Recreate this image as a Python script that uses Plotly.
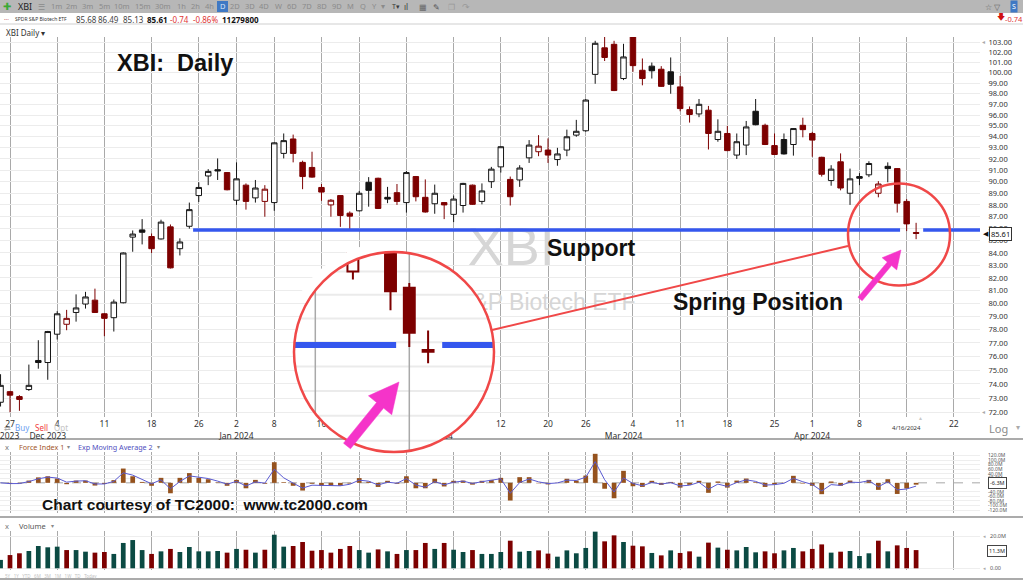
import math
import numpy as np
import pandas as pd
import plotly.graph_objects as go

W, H = 1023, 580

# ---------------------------------------------------------------- data
dates = [
    "2023-11-24", "2023-11-27", "2023-11-28", "2023-11-29", "2023-11-30", "2023-12-01",
    "2023-12-04", "2023-12-05", "2023-12-06", "2023-12-07", "2023-12-08",
    "2023-12-11", "2023-12-12", "2023-12-13", "2023-12-14", "2023-12-15",
    "2023-12-18", "2023-12-19", "2023-12-20", "2023-12-21", "2023-12-22",
    "2023-12-26", "2023-12-27", "2023-12-28", "2023-12-29",
    "2024-01-02", "2024-01-03", "2024-01-04", "2024-01-05",
    "2024-01-08", "2024-01-09", "2024-01-10", "2024-01-11", "2024-01-12",
    "2024-01-16", "2024-01-17", "2024-01-18", "2024-01-19",
    "2024-01-22", "2024-01-23", "2024-01-24", "2024-01-25", "2024-01-26",
    "2024-01-29", "2024-01-30", "2024-01-31", "2024-02-01", "2024-02-02",
    "2024-02-05", "2024-02-06", "2024-02-07", "2024-02-08", "2024-02-09",
    "2024-02-12", "2024-02-13", "2024-02-14", "2024-02-15", "2024-02-16",
    "2024-02-20", "2024-02-21", "2024-02-22", "2024-02-23",
    "2024-02-26", "2024-02-27", "2024-02-28", "2024-02-29", "2024-03-01",
    "2024-03-04", "2024-03-05", "2024-03-06", "2024-03-07", "2024-03-08",
    "2024-03-11", "2024-03-12", "2024-03-13", "2024-03-14", "2024-03-15",
    "2024-03-18", "2024-03-19", "2024-03-20", "2024-03-21", "2024-03-22",
    "2024-03-25", "2024-03-26", "2024-03-27", "2024-03-28",
    "2024-04-01", "2024-04-02", "2024-04-03", "2024-04-04", "2024-04-05",
    "2024-04-08", "2024-04-09", "2024-04-10", "2024-04-11", "2024-04-12",
    "2024-04-15", "2024-04-16",
]
# sessions still to come, shown as empty space on the right of the chart
upcoming = ["2024-04-17", "2024-04-18", "2024-04-19", "2024-04-22",
            "2024-04-23", "2024-04-24", "2024-04-25", "2024-04-26"]

open_ = [72.7, 73.45, 73.1, 73.6, 75.7, 75.55,
         77.65, 78.4, 79.3, 79.95, 80.25,
         79.2, 78.9, 80.05, 85.3, 85.9,
         85.35, 85.15, 86.15, 84.35, 86.2,
         88.8, 90.5, 91.05, 90.8,
         88.4, 89.7, 88.6, 88.3,
         88.2, 92.5, 93.8, 91.7, 91.25,
         89.5, 88.0, 88.8, 87.3,
         87.5, 89.95, 90.3, 88.65, 89.05,
         88.2, 90.45, 88.65, 88.1, 88.2,
         87.2, 87.95, 89.7, 88.3, 90.0,
         91.3, 90.2, 90.15, 92.1, 92.65,
         92.8, 91.95, 92.8, 94.15,
         94.55, 99.85, 102.45, 102.8, 99.45,
         103.6, 100.25, 100.65, 100.35, 100.1,
         98.65, 96.5, 96.1, 96.45, 93.75,
         94.3, 92.35, 93.25, 96.35, 95.05,
         93.2, 93.75, 93.3, 95.05,
         94.3, 92.15, 90.1, 91.75, 89.0,
         90.45, 90.6, 89.0, 91.35, 91.15,
         88.3, 85.68]
high_ = [74.7, 73.5, 73.2, 75.4, 77.2, 77.9,
         79.4, 79.5, 80.7, 80.9, 81.15,
         79.25, 80.3, 84.05, 85.85, 86.8,
         85.6, 86.75, 86.35, 85.2, 88.2,
         89.95, 91.1, 92.05, 90.85,
         91.7, 89.85, 90.15, 89.7,
         93.5, 94.3, 94.2, 91.85, 92.65,
         89.8, 88.5, 88.8, 87.45,
         89.2, 90.4, 90.35, 89.55, 89.8,
         90.95, 90.5, 90.2, 89.75, 88.25,
         88.8, 89.9, 89.75, 89.85, 91.3,
         93.15, 90.45, 91.45, 93.7, 94.15,
         93.85, 93.0, 94.65, 95.55,
         97.5, 103.15, 103.55, 103.15, 102.85,
         103.65, 101.4, 101.0, 100.65, 101.5,
         99.7, 96.8, 97.5, 96.85, 95.6,
         95.0, 94.3, 95.45, 97.5, 95.2,
         94.3, 94.3, 94.8, 95.75,
         94.45, 92.2, 91.45, 92.5, 91.15,
         90.75, 91.8, 90.05, 91.7, 91.2,
         88.5, 86.49]
low_ = [72.4, 72.0, 72.1, 73.5, 75.1, 74.3,
        77.25, 77.95, 78.6, 79.6, 79.3,
        77.5, 77.85, 80.0, 84.1, 84.7,
        84.0, 85.1, 82.75, 83.8, 86.0,
        88.25, 89.7, 90.15, 89.25,
        88.0, 87.6, 88.2, 87.0,
        87.5, 92.05, 91.7, 89.35, 90.35,
        88.35, 87.0, 86.15, 85.9,
        87.45, 87.85, 87.65, 88.15, 88.0,
        87.35, 88.3, 87.35, 87.25, 86.8,
        86.55, 87.35, 88.0, 88.05, 89.45,
        90.8, 87.95, 89.55, 91.65, 92.25,
        91.65, 91.4, 92.25, 94.0,
        94.45, 98.95, 101.15, 98.25, 99.3,
        100.1, 98.8, 99.45, 98.65, 98.0,
        96.35, 95.3, 95.8, 92.85, 93.55,
        92.7, 92.0, 92.35, 95.05, 93.25,
        92.35, 92.4, 92.3, 93.95,
        92.2, 90.45, 89.65, 89.25, 88.0,
        89.7, 90.4, 88.65, 89.95, 87.35,
        85.8, 85.13]
close_ = [73.9, 73.2, 72.9, 73.9, 75.55, 77.85,
          79.2, 78.85, 79.65, 80.5, 79.3,
          78.85, 80.1, 84.0, 85.55, 85.7,
          84.35, 86.55, 82.8, 84.9, 87.6,
          89.5, 90.9, 90.95, 89.3,
          90.25, 88.3, 89.45, 89.35,
          93.45, 93.65, 92.5, 90.45, 90.4,
          89.1, 88.4, 87.1, 87.05,
          89.0, 89.25, 87.7, 88.5, 88.3,
          90.8, 88.7, 87.4, 89.0, 88.0,
          88.5, 89.85, 88.05, 89.2, 91.1,
          93.1, 88.7, 91.2, 93.25, 93.15,
          92.35, 92.45, 94.0, 94.5,
          97.4, 102.9, 101.5, 98.3, 101.55,
          100.7, 99.45, 100.2, 98.7, 98.9,
          96.6, 96.05, 97.0, 94.3, 94.5,
          92.75, 93.55, 94.9, 95.1, 93.3,
          92.4, 92.45, 94.75, 94.65,
          93.7, 90.65, 91.1, 89.45, 90.25,
          90.3, 91.6, 89.8, 91.15, 88.15,
          86.4, 85.61]
volume_m = [5.2, 8.2, 9.3, 10.7, 13.8, 13.0,
            13.4, 11.3, 11.3, 10.3, 9.7,
            10.1, 8.9, 15.7, 17.5, 11.3,
            8.9, 10.5, 12.0, 10.1, 13.2,
            10.5, 10.5, 10.7, 9.7,
            12.0, 11.5, 9.7, 11.5,
            20.8, 13.4, 13.8, 16.3, 10.9,
            11.3, 9.7, 12.0, 13.8,
            11.3, 9.7, 11.7, 10.5, 8.9,
            11.3, 11.3, 15.7, 12.0, 15.7,
            11.5, 10.1, 11.3, 8.9, 8.9,
            10.1, 17.1, 10.3, 10.7, 11.1,
            9.1, 7.2, 11.1, 9.3,
            12.6, 22.7, 16.7, 20.4, 16.3,
            14.0, 13.6, 9.5, 8.0, 11.1,
            9.5, 10.5, 7.2, 15.9, 12.8,
            11.5, 11.1, 13.2, 9.9, 10.5,
            9.3, 11.1, 12.6, 10.5,
            12.0, 14.8, 9.7, 10.3, 10.7,
            7.6, 9.3, 17.1, 10.5, 14.2,
            12.6, 11.28]
force_m = [0, -5, -3, 10, 24, 29,
           19, -6, 10, 10, -12,
           -5, 12, 63, 29, 4,
           -13, 22, -46, 22, 43,
           22, 16, 2, -13,
           13, -24, 13, -4,
           91, 3, -13, -34, -4,
           -13, -13, -13, -3,
           21, 5, -18, 9, -4,
           29, -24, -24, 18, -16,
           9, 10, -8, 9, 13,
           22, -78, 25, 25, -2,
           -7, 1, 18, 10,
           32, 128, -26, -68, 53,
           -15, -18, 9, -9, 4,
           -21, -9, 9, -44, 6,
           -21, 10, 19, 3, -18,
           -7, 1, 31, -3,
           -13, -50, 6, -13, 10,
           1, 13, -31, 16, -49,
           -25, -8]

price_ticks = list(range(72, 104))
force_ticks = [120, 100, 80, 60, 40, 20, -40, -60, -80, -100, -120]
support_level = 85.89
# support line extent, in session units (start, gap around the last bars, end)
support_start, support_gap, support_end = 20.4, (95.3, 97.75), 104.3

# ---------------------------------------------------------------- derived
n = len(dates)
xs = list(range(n))
all_days = pd.to_datetime(dates + upcoming)
week_starts = [i for i in range(1, len(all_days))
               if all_days[i].isocalendar()[1] != all_days[i - 1].isocalendar()[1]]
week_text = [str(all_days[i].day) if i != n - 2 else "" for i in week_starts]
month_starts = [0] + [i for i in range(1, n) if all_days[i].month != all_days[i - 1].month]
month_text = [all_days[i].strftime("%b %Y") for i in month_starts]

up_day = [True] + [close_[i] >= close_[i - 1] for i in range(1, n)]
ema = pd.Series(force_m, dtype=float).ewm(span=2, adjust=False).mean().tolist()

RED = "#7d0000"
BLK = "#151515"
TEAL = "#0b4a43"
BLUE = "#3557ee"
CIRC = "#f04848"
MAG = "#f534c9"
UI = "Noto Sans, Open Sans, sans-serif"
BOLD = "Liberation Sans, Arial, sans-serif"


def px_x(x):
    return x / W


def px_y(y):
    return 1 - y / H


def candles(flag, color, xa, ya, lw, lo=0):
    sel = [i for i in range(lo, n) if up_day[i] == flag]
    return go.Candlestick(
        x=[xs[i] for i in sel], open=[open_[i] for i in sel], high=[high_[i] for i in sel],
        low=[low_[i] for i in sel], close=[close_[i] for i in sel],
        increasing=dict(line=dict(color=color, width=lw), fillcolor="white"),
        decreasing=dict(line=dict(color=color, width=lw), fillcolor=color),
        whiskerwidth=0, xaxis=xa, yaxis=ya, showlegend=False, hoverinfo="skip")


fig = go.Figure()

# main price panel
fig.add_trace(go.Scatter(x=[54.1, 54.1], y=[84.1, 79.9], mode="text",
                         text=["XBI", "SPDR S&P Biotech ETF"],
                         textfont=dict(family="Liberation Sans, Arial", size=[54, 23], color="#d6d6d6"),
                         xaxis="x", yaxis="y", hoverinfo="skip", showlegend=False))
fig.add_trace(candles(True, BLK, "x", "y", 1))
fig.add_trace(candles(False, RED, "x", "y", 1))
fig.add_trace(go.Scatter(x=[support_start, support_gap[0], None, support_gap[1], support_end],
                         y=[support_level, support_level, None, support_level, support_level],
                         mode="lines", line=dict(color=BLUE, width=3.5), xaxis="x", yaxis="y",
                         hoverinfo="skip", showlegend=False))
# carrier for the month captions under the day numbers
fig.add_trace(go.Scatter(x=[None], y=[None], mode="lines", xaxis="x5", yaxis="y",
                         hoverinfo="skip", showlegend=False))

# force index panel
fig.add_trace(go.Bar(x=xs, y=force_m, marker=dict(color="#95521d", line_width=0),
                     xaxis="x2", yaxis="y2", hoverinfo="skip", showlegend=False))
fig.add_trace(go.Scatter(x=xs, y=ema, mode="lines", line=dict(color="#5a5ad2", width=1),
                         xaxis="x2", yaxis="y2", hoverinfo="skip", showlegend=False))

# volume panel
fig.add_trace(go.Bar(x=xs, y=volume_m, marker=dict(color=[TEAL if u else RED for u in up_day], line_width=0),
                     xaxis="x3", yaxis="y3", hoverinfo="skip", showlegend=False))

# magnified view of the last sessions
in_x = (89.867, 100.505)
in_y = (81.553, 89.843)
fig.add_trace(candles(True, BLK, "x4", "y4", 2, lo=n - 5))
fig.add_trace(candles(False, RED, "x4", "y4", 2, lo=n - 5))

lo4, hi4 = math.log10(in_y[0]), math.log10(in_y[1])


def in_xv(f):
    return in_x[0] + f * (in_x[1] - in_x[0])


def in_yv(f):
    return 10 ** (lo4 + f * (hi4 - lo4))


yf_s = (math.log10(support_level) - lo4) / (hi4 - lo4)
hw_s = math.sqrt(0.25 - (yf_s - 0.5) ** 2)
fig.add_trace(go.Scatter(x=[in_xv(0.5 - hw_s), support_gap[0], None, support_gap[1], in_xv(0.5 + hw_s)],
                         y=[support_level] * 2 + [None] + [support_level] * 2,
                         mode="lines", line=dict(color=BLUE, width=6), xaxis="x4", yaxis="y4",
                         hoverinfo="skip", showlegend=False))

# ---------------------------------------------------------------- axes
x_range = [-0.059, 103.77]
dom_x = [0, 980 / W]
grid_v = dict(tickmode="array", tickvals=week_starts, showgrid=True, gridcolor="#a9a9a9",
              gridwidth=1, zeroline=False, showline=False, ticks="")

fig.update_layout(
    xaxis=dict(domain=dom_x, range=x_range, anchor="y", ticktext=week_text,
               tickfont=dict(family=UI, size=8.5, color="#333"), tickangle=0,
               ticklabeloverflow="allow", rangeslider=dict(visible=False), **grid_v),
    xaxis5=dict(overlaying="x", anchor="y", side="bottom", range=x_range, tickmode="array",
                tickvals=month_starts, ticktext=month_text, showgrid=False, zeroline=False,
                ticks="outside", ticklen=11, tickcolor="rgba(0,0,0,0)", tickangle=0,
                ticklabeloverflow="allow", tickfont=dict(family=UI, size=8.5, color="#333")),
    yaxis=dict(domain=[px_y(417), px_y(37)], type="log",
               range=[math.log10(71.67), math.log10(103.53)], side="right",
               tickmode="array", tickvals=price_ticks, ticktext=[f"{v:.2f}" for v in price_ticks],
               tickfont=dict(family=UI, size=7.5, color="#333"), showgrid=True,
               gridcolor="#ececec", zeroline=False, ticks="outside", ticklen=6,
               tickcolor="rgba(0,0,0,0)", anchor="x"),
    xaxis2=dict(domain=dom_x, range=x_range, anchor="y2", showticklabels=False, **grid_v),
    yaxis2=dict(domain=[px_y(513), px_y(452)], range=[-133, 136], side="right", anchor="x2",
                tickmode="array", tickvals=force_ticks, ticktext=[f"{v:.1f}M" for v in force_ticks],
                tickfont=dict(family=UI, size=5, color="#555"), showgrid=True,
                gridcolor="#eeeeee", zeroline=False, ticks="outside", ticklen=6,
                tickcolor="rgba(0,0,0,0)"),
    xaxis3=dict(domain=dom_x, range=x_range, anchor="y3", showticklabels=False, **grid_v),
    yaxis3=dict(domain=[px_y(570), px_y(531)], range=[-1.05, 23.1], side="right", anchor="x3",
                tickmode="array", tickvals=[0, 20], ticktext=["0.00", "20.0M"],
                tickfont=dict(family=UI, size=5.5, color="#555"), showgrid=True,
                gridcolor="#eeeeee", zeroline=False, ticks="outside", ticklen=8,
                tickcolor="rgba(0,0,0,0)"),
    xaxis4=dict(domain=[px_x(294), px_x(494)], range=list(in_x), anchor="y4", visible=False,
                rangeslider=dict(visible=False), showgrid=False, zeroline=False),
    yaxis4=dict(domain=[px_y(452), px_y(252)], type="log", range=[lo4, hi4], anchor="x4",
                visible=False, showgrid=False, zeroline=False),
)

# ---------------------------------------------------------------- shapes
shapes = []


def hline(y, x0=0, x1=W, color="#a0a0a0", width=1, layer="below"):
    shapes.append(dict(type="line", xref="paper", yref="paper", x0=px_x(x0), x1=px_x(x1),
                       y0=px_y(y), y1=px_y(y), line=dict(color=color, width=width), layer=layer))


shapes.append(dict(type="rect", xref="paper", yref="paper", x0=0, x1=1, y0=px_y(13), y1=1,
                   fillcolor="#b7b7b7", line_width=0, layer="below"))
hline(24, color="#cfcfcf")
hline(439, color="#8f8f8f", width=1.5)
hline(517, color="#8f8f8f", width=1.5)
hline(579, color="#8f8f8f", width=1.5)
shapes.append(dict(type="line", xref="x2 domain", yref="y2", x0=0, x1=1, y0=0, y1=0,
                   line=dict(color="#a8a8a8", width=1, dash="dash"), layer="below"))

# white disk behind the magnified view, plus its own grid lines clipped to the circle
shapes.append(dict(type="circle", xref="x4", yref="y4", x0=in_x[0], x1=in_x[1],
                   y0=in_y[0], y1=in_y[1], fillcolor="white", line_width=0, layer="below"))
for p in range(math.ceil(in_y[0]), math.floor(in_y[1]) + 1):
    yf = (math.log10(p) - lo4) / (hi4 - lo4)
    hw = math.sqrt(max(0.25 - (yf - 0.5) ** 2, 0))
    shapes.append(dict(type="line", xref="x4", yref="y4", x0=in_xv(0.5 - hw), x1=in_xv(0.5 + hw),
                       y0=p, y1=p, line=dict(color="#ebebeb", width=2), layer="below"))
for w in week_starts:
    if in_x[0] < w < in_x[1]:
        xf = (w - in_x[0]) / (in_x[1] - in_x[0])
        hh = math.sqrt(max(0.25 - (xf - 0.5) ** 2, 0))
        shapes.append(dict(type="line", xref="x4", yref="y4", x0=w, x1=w,
                           y0=in_yv(0.5 - hh), y1=in_yv(0.5 + hh),
                           line=dict(color="#a9a9a9", width=1.5), layer="below"))

# magnifier circle with a thin white edge so nothing spills past it
cx, cy, cr = 394, 352, 100
arc = [(cx + 105.5 * math.cos(a), cy - 105.5 * math.sin(a))
       for a in np.linspace(math.radians(86), math.radians(150), 30)]
shapes.append(dict(type="path", xref="paper", yref="paper",
                   path="M " + " L ".join(f"{px_x(a):.5f},{px_y(b):.5f}" for a, b in arc),
                   line=dict(color="white", width=10), layer="above"))
shapes.append(dict(type="circle", xref="paper", yref="paper", x0=px_x(cx - cr), x1=px_x(cx + cr),
                   y0=px_y(cy + cr), y1=px_y(cy - cr), line=dict(color=CIRC, width=2.5), layer="above"))
shapes.append(dict(type="line", xref="paper", yref="paper", x0=px_x(492), y0=px_y(330),
                   x1=px_x(848), y1=px_y(246), line=dict(color=CIRC, width=2), layer="above"))
shapes.append(dict(type="circle", xref="paper", yref="paper", x0=px_x(848), x1=px_x(950),
                   y0=px_y(285.5), y1=px_y(183.5), line=dict(color=CIRC, width=2.5), layer="above"))


def arrow(tail, tip, shaft, head_len, head_half):
    (tx, ty), (hx, hy) = tail, tip
    L = math.hypot(hx - tx, hy - ty)
    ux, uy = (hx - tx) / L, (hy - ty) / L
    nx, ny = -uy, ux
    bx, by = hx - ux * head_len, hy - uy * head_len
    pts = [(tx + nx * shaft / 2, ty + ny * shaft / 2), (bx + nx * shaft / 2, by + ny * shaft / 2),
           (bx + nx * head_half, by + ny * head_half), (hx, hy),
           (bx - nx * head_half, by - ny * head_half), (bx - nx * shaft / 2, by - ny * shaft / 2),
           (tx - nx * shaft / 2, ty - ny * shaft / 2)]
    shapes.append(dict(type="path", xref="paper", yref="paper",
                       path="M " + " L ".join(f"{px_x(a):.5f},{px_y(b):.5f}" for a, b in pts) + " Z",
                       fillcolor=MAG, line=dict(color=MAG, width=0.5), layer="above"))


arrow((347, 446), (399, 382), 9, 30, 15)
arrow((860, 299), (901, 250), 5.5, 18, 9.5)

# timeframe selector highlight
shapes.append(dict(type="rect", xref="paper", yref="paper", x0=px_x(217), x1=px_x(228),
                   y0=px_y(12), y1=px_y(1), fillcolor="#3f79c4", line_width=0, layer="above"))
fig.update_layout(shapes=shapes)

# ---------------------------------------------------------------- text
anns = []


def txt(s, x, y, size=8, color="#333", anchor="center", family=UI, **kw):
    anns.append(dict(text=s, x=px_x(x), y=px_y(y), xref="paper", yref="paper", showarrow=False,
                     xanchor=anchor, yanchor="middle", font=dict(family=family, size=size, color=color), **kw))


# toolbar
txt("✚", 7, 6.5, 10, "#3aa935")
txt("XBI", 25, 6.5, 9, "#1e1e1e")
txt("☰", 41, 6.5, 8, "#8a8a8a")
for lab, xc in zip(["1m", "2m", "3m", "5m", "10m", "15m", "30m", "1h", "2h", "4h", "D", "2D", "3D",
                    "4D", "W", "6D", "7D", "8D", "9D", "M", "Q", "Y", "▾"],
                   [56, 71, 87.5, 104, 122, 143, 163, 181, 195, 209, 222.5, 235, 250, 264, 278, 292,
                    307, 322, 337, 350, 363, 374, 383]):
    txt(lab, xc, 6.5, 7.5, "#d6e6f7" if lab == "D" else "#8b8b8b")
txt("T▾", 396, 6.5, 7, "#3a3a3a")
txt("ıl", 406, 6.5, 8, "#3a3a3a")
txt("▦", 423, 6.5, 8, "#666")
txt("✎", 436, 6.5, 8, "#555")
txt("❐", 451, 6.5, 8, "#999")
txt("↷", 466, 6.5, 9, "#999")
txt("☆ ▽", 993, 6.5, 8, "#666")
txt("S", 1014, 6.5, 7, "white", bgcolor="#3f79c4")

# quote line
txt("...", 6, 18, 6, "#b03030")
txt("SPDR S&P Biotech ETF", 41, 18.5, 5, "#333")
txt("85.68", 86, 19.5, 8, "#444")
txt("86.49", 108.5, 19.5, 8, "#444")
txt("85.13", 133, 19.5, 8, "#444")
txt("<b>85.61</b>", 157, 19.5, 8, "#111")
txt("-0.74", 179, 19.5, 8, "#e03535")
txt("-0.86%", 205.5, 19.5, 8, "#e03535")
txt("<b>11279800</b>", 240.5, 19.5, 8, "#111")
txt("🡇", 1001, 18, 8, "#d01010", family="DejaVu Sans")
txt("-0.74", 1014, 18.5, 7.5, "#e03535")
txt("XBI Daily ▾", 4, 32, 8, "#333", anchor="left")

# chart notes
txt("<b>XBI:\u00a0 Daily</b>", 174.5, 63, 23.5, "#111", family=BOLD)
txt("<b>Support</b>", 591, 248, 23, "#111", family=BOLD)
txt("<b>Spring Position</b>", 757.5, 302, 23, "#111", family=BOLD)
txt("<b>Chart courtesy of TC2000:\u00a0 www.tc2000.com</b>", 204.5, 504, 15.5, "#111", family=BOLD)

# price scale extras
txt("◂", 983, 42, 6, "#aaa")
txt("◂", 983, 412, 6, "#aaa")
txt("◀", 986, 233.5, 6.5, "#111")
txt("85.61", 1000, 233.5, 7.5, "#111", bordercolor="#333", borderwidth=1, borderpad=1, bgcolor="white")
txt("Log", 998, 428, 11, "#8a8a8a")
txt("▾", 1018, 426, 8, "#aaa")
txt("4/16/2024", 906, 428, 6, "#333")
txt("▲", 920, 418, 5, "#c8c8c8")
txt("⇄", 7, 427, 8, "#aaa")
txt("Buy", 22, 427, 8, "#6b9ef0")
txt("Sell", 41, 427, 8, "#f03c3c")
txt("Opt", 61, 427, 8, "#c4c4c4")

# indicator panels
txt("x", 7, 447, 7.5, "#777")
txt("Force Index 1", 17, 447, 7.2, "#a2562a", anchor="left")
txt("▾", 68.5, 447, 6, "#888")
txt("Exp Moving Average 2", 76, 447, 7.2, "#4f4fc0", anchor="left")
txt("▾", 158, 447, 6, "#888")
txt("-6.3M", 997, 483, 5.5, "#222", bordercolor="#444", borderwidth=1, borderpad=1, bgcolor="white")
txt("x", 7, 525.5, 7.5, "#777")
txt("Volume", 17, 525.5, 7.5, "#555", anchor="left")
txt("▾", 52, 525.5, 6, "#888")
txt("◂", 984, 536, 5, "#aaa")
txt("11.3M", 997, 551, 5.5, "#222", bordercolor="#444", borderwidth=1, borderpad=1, bgcolor="white")
txt("◂", 984, 568, 5, "#aaa")
txt("5Y\u00a0\u00a0 1Y\u00a0\u00a0 YTD\u00a0\u00a0 6M\u00a0\u00a0 3M\u00a0\u00a0 1M\u00a0\u00a0 1W\u00a0\u00a0 TD\u00a0\u00a0 Today",
    3, 575.5, 4.5, "#c2c2c2", anchor="left")

fig.update_layout(
    annotations=anns,
    width=W, height=H, autosize=False,
    margin=dict(l=0, r=0, t=0, b=0, pad=0),
    paper_bgcolor="white", plot_bgcolor="rgba(0,0,0,0)",
    template="none", showlegend=False, hovermode=False,
    bargap=0.5, boxgap=0.42, boxgroupgap=0,
    font=dict(family=UI, size=8, color="#333"),
)

fig.write_html("out.html", config={"displayModeBar": False, "staticPlot": True})
